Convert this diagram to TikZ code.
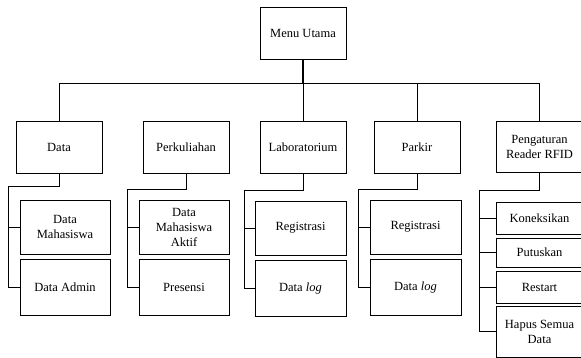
\documentclass[tikz,border=0pt]{standalone}
\usepackage{fontspec}
\setmainfont{Liberation Serif}
\begin{document}
\begin{tikzpicture}[x=1pt,y=-1pt,
  box/.style={draw,line width=0.8pt,inner sep=1pt,align=center,font=\fontsize{12.5}{15}\selectfont},
  lone/.style={box,minimum width=86pt,minimum height=52pt},
  ltwo/.style={box,minimum width=90pt},
  lthree/.style={box,minimum width=86pt},
  wire/.style={line width=0.8pt}]
\useasboundingbox (0,0) rectangle (581,358);
% root
\node[lone] (menu) at (303,33) {Menu Utama};
% level 1
\node[lone] (data) at (59,147) {Data};
\node[lone] (kul) at (186,147) {Perkuliahan};
\node[lone] (lab) at (303,147) {Laboratorium};
\node[lone] (park) at (417,147) {Parkir};
\node[box,minimum width=86pt,minimum height=51pt] (rfid) at (539.5,147) {Pengaturan\\Reader RFID};
% bus
\coordinate (busL) at (59,83);
\coordinate (busR) at (540,83);
\draw[wire] (busL) -- (busR);
\draw[line width=1.1pt] (menu.south) -- (menu.south |- busL);
\draw[wire] (busL) -- (data.north);
\draw[wire] (lab.north) -- (lab.north |- busL);
\draw[wire] (park.north) -- (park.north |- busL);
\draw[wire] (rfid.north) -- (rfid.north |- busL);
% level 2 : Data
\node[ltwo,minimum height=54pt] (dm) at (65,227) {Data\\Mahasiswa};
\node[ltwo,minimum height=56pt] (da) at (65,287) {Data Admin};
\coordinate (dL) at (8,186);
\draw[wire] (data.south) |- (dL) |- (dm.west);
\draw[wire] (dL) |- (da.west);
% level 2 : Perkuliahan
\node[ltwo,minimum height=54pt] (dma) at (184,227) {Data\\Mahasiswa\\Aktif};
\node[ltwo,minimum height=56pt] (pres) at (184,287) {Presensi};
\coordinate (kL) at (127,189);
\draw[wire] (kul.south) |- (kL) |- (dma.west);
\draw[wire] (kL) |- (pres.west);
% level 2 : Laboratorium
\node[ltwo,minimum width=91pt,minimum height=54pt] (lreg) at (300.5,228) {Registrasi};
\node[ltwo,minimum width=91pt,minimum height=56pt] (llog) at (300.5,288) {Data \textit{log}};
\coordinate (lL) at (244,190);
\draw[wire] (lab.south) |- (lL) |- (lreg.west);
\draw[wire] (lL) |- (llog.west);
% level 2 : Parkir
\node[ltwo,minimum width=91pt,minimum height=54pt] (preg) at (415.5,227) {Registrasi};
\node[ltwo,minimum width=91pt,minimum height=56pt] (plog) at (415.5,287) {Data \textit{log}};
\coordinate (pL) at (358,189);
\draw[wire] (park.south) |- (pL) |- (preg.west);
\draw[wire] (pL) |- (plog.west);
% level 2 : Pengaturan Reader RFID
\node[lthree,minimum height=32pt] (kon) at (539.5,218) {Koneksikan};
\node[lthree,minimum height=29pt] (put) at (539.5,252.5) {Putuskan};
\node[lthree,minimum height=32pt] (rst) at (539.5,287) {Restart};
\node[lthree,minimum height=51pt] (hap) at (539.5,331.5) {Hapus Semua\\Data};
\coordinate (rL) at (479,190);
\draw[wire] (rfid.south) |- (rL) |- (kon.west);
\draw[wire] (rL) |- (put.west);
\draw[wire] (rL) |- (rst.west);
\draw[wire] (rL) |- (hap.west);
\end{tikzpicture}
\end{document}
